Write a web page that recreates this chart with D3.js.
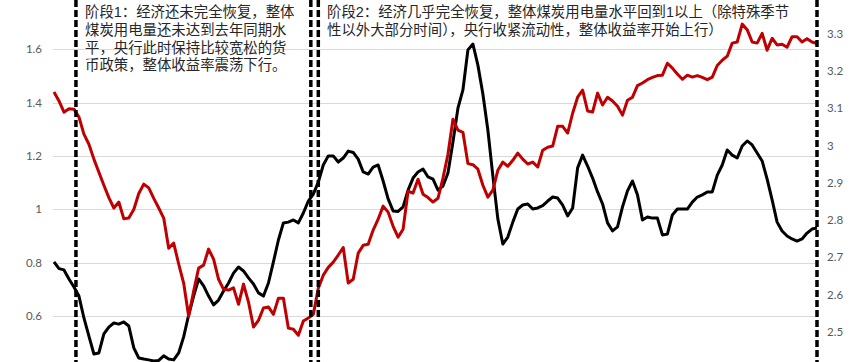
<!DOCTYPE html>
<html>
<head>
<meta charset="utf-8">
<script src="https://cdn.jsdelivr.net/npm/d3@7"></script>
<style>
  body { margin: 0; background: #fff; }
  #chart { position: relative; width: 852px; height: 362px; overflow: hidden; }
  svg { display: block; }
  .note {
    position: absolute;
    font-family: 'Liberation Sans', 'Noto Sans CJK SC', sans-serif;
    font-size: 14.4px;
    line-height: 17.8px;
    color: #262626;
    white-space: nowrap;
  }
</style>
</head>
<body>
<div id="chart"></div>
<script>
// black line, left axis
var blackVals = [
  0.803, 0.778, 0.773, 0.739, 0.709, 0.675, 0.593, 0.525, 0.458, 0.462,
  0.533, 0.559, 0.574, 0.570, 0.578, 0.563, 0.481, 0.443, 0.439, 0.436,
  0.432, 0.434, 0.451, 0.439, 0.436, 0.462, 0.522, 0.604, 0.675, 0.739,
  0.713, 0.675, 0.642, 0.660, 0.694, 0.724, 0.761, 0.784, 0.769, 0.743,
  0.720, 0.687, 0.675, 0.724, 0.803, 0.885, 0.949, 0.952, 0.960, 0.949,
  0.986, 1.031, 1.057, 1.102, 1.166, 1.200, 1.200, 1.177, 1.192, 1.218,
  1.213, 1.188, 1.140, 1.132, 1.158, 1.166, 1.106, 1.039, 0.994, 0.992,
  1.009, 1.072, 1.117, 1.140, 1.151, 1.121, 1.113, 1.072, 1.087, 1.136,
  1.252, 1.379, 1.447, 1.597, 1.619, 1.540, 1.432, 1.297, 1.125, 0.964,
  0.870, 0.896, 0.952, 1.001, 1.016, 1.020, 1.001, 1.005, 1.014, 1.031,
  1.046, 1.042, 1.016, 0.975, 1.005, 1.155, 1.203, 1.162, 1.117, 1.065,
  1.020, 0.949, 0.919, 0.934, 1.009, 1.069, 1.106, 1.054, 0.960, 0.971,
  0.967, 0.967, 0.904, 0.907, 0.979, 1.001, 1.001, 1.001, 1.027, 1.046,
  1.054, 1.065, 1.065, 1.128, 1.166, 1.222, 1.203, 1.192, 1.237, 1.256,
  1.241, 1.211, 1.181, 1.113, 1.035, 0.952, 0.919, 0.900, 0.889, 0.881,
  0.889, 0.911, 0.926, 0.930
];

// red line, right axis
var redVals = [
  3.143, 3.119, 3.089, 3.098, 3.097, 3.076, 3.030, 3.003, 2.963, 2.928,
  2.893, 2.860, 2.832, 2.848, 2.803, 2.805, 2.828, 2.871, 2.896, 2.886,
  2.858, 2.832, 2.805, 2.724, 2.738, 2.682, 2.631, 2.542, 2.609, 2.671,
  2.679, 2.722, 2.695, 2.641, 2.614, 2.612, 2.618, 2.574, 2.628, 2.580,
  2.513, 2.531, 2.564, 2.567, 2.547, 2.590, 2.590, 2.510, 2.507, 2.491,
  2.529, 2.537, 2.547, 2.617, 2.652, 2.673, 2.687, 2.706, 2.726, 2.631,
  2.641, 2.711, 2.732, 2.735, 2.773, 2.802, 2.837, 2.821, 2.783, 2.754,
  2.775, 2.877, 2.872, 2.909, 2.869, 2.860, 2.848, 2.858, 2.912, 2.976,
  3.070, 3.041, 3.035, 2.951, 2.948, 2.936, 2.893, 2.861, 2.880, 2.933,
  2.955, 2.944, 2.960, 2.979, 2.963, 2.950, 2.955, 2.942, 2.987, 2.995,
  2.998, 3.051, 3.051, 3.033, 3.086, 3.129, 3.148, 3.092, 3.089, 3.140,
  3.108, 3.129, 3.119, 3.105, 3.081, 3.121, 3.129, 3.160, 3.167, 3.176,
  3.182, 3.187, 3.188, 3.220, 3.207, 3.191, 3.177, 3.188, 3.183, 3.187,
  3.182, 3.176, 3.183, 3.214, 3.228, 3.239, 3.274, 3.277, 3.325, 3.310,
  3.277, 3.274, 3.300, 3.255, 3.287, 3.269, 3.271, 3.263, 3.291, 3.291,
  3.277, 3.286, 3.277, 3.273
];

// only the ticks visible in the cropped picture
var leftTicks = [0.6, 0.8, 1, 1.2, 1.4, 1.6];
var rightTicks = [2.5, 2.6, 2.7, 2.8, 2.9, 3, 3.1, 3.2, 3.3];

// phase boundaries (in data index units)
var phaseBounds = [4.4, 51.5, 53, 153];

var phase1Text = [
  "阶段1：经济还未完全恢复，整体",
  "煤炭用电量还未达到去年同期水",
  "平，央行此时保持比较宽松的货",
  "币政策，整体收益率震荡下行。"
];
var phase2Text = [
  "阶段2：经济几乎完全恢复，整体煤炭用电量水平回到1以上（除特殊季节",
  "性以外大部分时间），央行收紧流动性，整体收益率开始上行）"
];

var W = 852, H = 362;
var plotLeft = 53, plotRight = 817;

var chart = d3.select("#chart");
var svg = chart.append("svg")
    .attr("width", W)
    .attr("height", H)
    .style("overflow", "hidden");

// plot area runs a little past the picture at top and bottom (cropped chart)
var x = d3.scaleLinear().domain([0, blackVals.length - 1]).range([54, 817]);
var yL = d3.scaleLinear().domain([0.4, 1.8]).range([369.5, -4.3]);
var yR = d3.scaleLinear().domain([2.4, 3.4]).range([369.2, -3.9]);

// gridlines
svg.append("g").selectAll("line")
    .data(leftTicks)
    .enter().append("line")
    .attr("x1", plotLeft)
    .attr("x2", plotRight)
    .attr("y1", function(d) { return Math.round(yL(d)) + 0.5; })
    .attr("y2", function(d) { return Math.round(yL(d)) + 0.5; })
    .style("stroke", "#d9d9d9")
    .style("stroke-width", 1);

// axes (labels only)
var fmt = function(d) { return d3.format("")(d); };
var leftAxis = svg.append("g")
    .attr("transform", "translate(46,0)")
    .call(d3.axisLeft(yL).tickValues(leftTicks).tickSize(0).tickPadding(4).tickFormat(fmt));
var rightAxis = svg.append("g")
    .attr("transform", "translate(822,0)")
    .call(d3.axisRight(yR).tickValues(rightTicks).tickSize(0).tickPadding(5).tickFormat(fmt));
[leftAxis, rightAxis].forEach(function(a) {
  a.select(".domain").remove();
  a.selectAll("text")
    .style("font-family", "Lato, 'Open Sans', sans-serif")
    .style("font-size", "11.5px")
    .style("fill", "#595959");
});

// series
var lineL = d3.line()
    .x(function(d, i) { return x(i); })
    .y(function(d) { return yL(d); });
var lineR = d3.line()
    .x(function(d, i) { return x(i); })
    .y(function(d) { return yR(d); });

svg.append("path")
    .datum(blackVals)
    .attr("d", lineL)
    .style("fill", "none")
    .style("stroke", "#000")
    .style("stroke-width", 3)
    .style("stroke-linejoin", "round");

svg.append("path")
    .datum(redVals)
    .attr("d", lineR)
    .style("fill", "none")
    .style("stroke", "#c00000")
    .style("stroke-width", 3)
    .style("stroke-linejoin", "round");

// dashed phase lines
svg.append("g").selectAll("line")
    .data(phaseBounds)
    .enter().append("line")
    .attr("x1", function(d) { return x(d); })
    .attr("x2", function(d) { return x(d); })
    .attr("y1", 0)
    .attr("y2", H)
    .style("stroke", "#000")
    .style("stroke-width", 3.5)
    .style("stroke-dasharray", "7,3");

// annotations: html blocks so the tight line spacing stays one box each
function addNote(lines, x0) {
  chart.append("div")
    .attr("class", "note")
    .style("left", x0 + "px")
    .style("top", "4px")
    .html(lines.join("<br>"));
}
addNote(phase1Text, 85);
addNote(phase2Text, 327);
</script>
</body>
</html>
